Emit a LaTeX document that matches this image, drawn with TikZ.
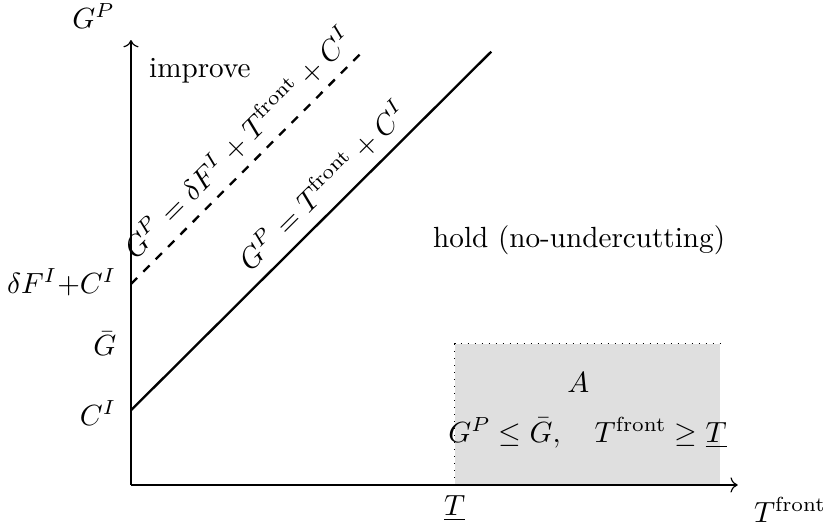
\documentclass[tikz,border=0pt]{standalone}
\usepackage{amsmath,amssymb}
\usepackage{xcolor}
\usepackage{tikz}
\usetikzlibrary{positioning, calc, arrows.meta}

\begin{document}
\begin{tikzpicture}
        \useasboundingbox (-1.578,-0.506) rectangle (8.434,5.843);

        % Shaded region A
        \fill[gray!25] (3.9,0) rectangle (7.1,1.7);
        \draw[dotted] (3.9,0) -- (3.9,1.7) -- (7.1,1.7);

        % Axes
        \coordinate (O) at (0,0);
        \draw[->] (O) -- (7.31,0) coordinate (xend);
        \draw[->] (O) -- (0,5.36) coordinate (yend);
        \node at (7.94,-0.30) {$T^{\mathrm{front}}$};
        \node at (-0.45,5.65) {$G^P$};

        % Y-axis labels
        \node[left, xshift=-1.5pt] at (0,2.44) {$\delta F^I{+}C^I$};
        \node[left, xshift=-1.5pt] at (0,1.70) {$\bar{G}$};
        \node[left, xshift=-1.5pt] at (0,0.87) {$C^I$};

        % X-axis label
        \node[below] at (3.9,0) {$\underline{T}$};

        % Boundary lines
        \draw[thick] (0,0.9) -- (4.34,5.22)
            node[sloped, above, pos=0.58] {$G^P = T^{\mathrm{front}} + C^I$};
        \draw[thick, dashed] (0,2.42) -- (2.77,5.20)
            node[sloped, above, pos=0.54] {$G^P = \delta F^I + T^{\mathrm{front}} + C^I$};

        % Region labels
        \node at (0.83,4.99) {improve};
        \node at (5.40,2.95) {hold (no-undercutting)};
        \node at (5.39,1.23) {$A$};
        \node at (5.50,0.63) {$G^P \le \bar{G}, \quad T^{\mathrm{front}} \ge \underline{T}$};

\end{tikzpicture}
\end{document}
